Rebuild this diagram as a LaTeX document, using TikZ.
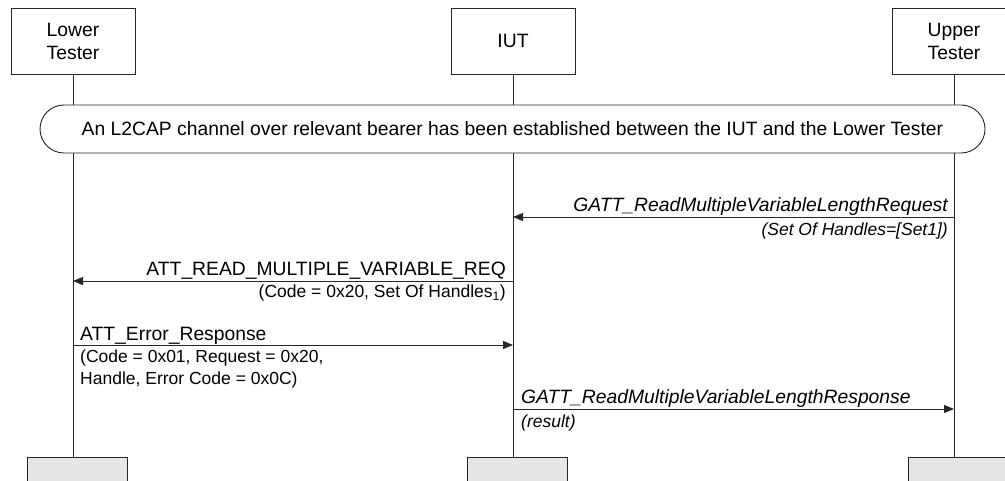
\documentclass[tikz,border=0pt]{standalone}
\usepackage{fontspec}
\setmainfont{Liberation Sans}
\usetikzlibrary{positioning,calc,arrows.meta}
\definecolor{ink}{HTML}{262626}
\definecolor{endgray}{HTML}{E6E6E6}
\newcommand{\lbl}{\fontsize{19.3}{23}\selectfont}
\newcommand{\sublbl}{\fontsize{17.5}{22}\selectfont}

\begin{document}
\begin{tikzpicture}[x=1pt,y=1pt,
  actor/.style={draw=ink,line width=0.9pt,minimum width=124pt,minimum height=66pt,align=center,font=\lbl},
  endbox/.style={draw=ink,fill=endgray,line width=0.9pt,minimum width=100pt,minimum height=40pt,anchor=north},
  life/.style={draw=ink,line width=0.9pt},
  msg/.style={draw=ink,line width=0.9pt,-{Triangle[length=10pt,width=8pt]}},
  note/.style={font=\sublbl,inner sep=0pt}]
  \useasboundingbox (0,0) rectangle (1005,-481);
  \clip (0,0) rectangle (1005,-481);

  % --- Cabeceras ---
  \node[actor] (lt)  at (73,-41)  {Lower\\Tester};
  \node[actor] (iut) at (513,-41) {IUT};
  \node[actor] (ut)  at (954,-41) {Upper\\Tester};

  % --- Cajas finales ---
  \node[endbox] (ltEnd)  at (77,-457)  {};
  \node[endbox] (iutEnd) at (517,-457) {};
  \node[endbox] (utEnd)  at (958,-457) {};

  % --- Líneas de vida ---
  \draw[life] (lt.south)  -- (lt.south |- ltEnd.north);
  \draw[life] (iut.south) -- (iut.south |- iutEnd.north);
  \draw[life] (ut.south)  -- (ut.south |- utEnd.north);

  % --- Condición previa ---
  \node[draw=ink,fill=white,line width=0.9pt,rounded corners=24pt,
        minimum width=945pt,minimum height=48pt,font=\lbl] (chan) at (512.5,-129)
    {An L2CAP channel over relevant bearer has been established between the IUT and the Lower Tester};

  % --- Alturas de los mensajes ---
  \coordinate (m1) at (0,-217);
  \coordinate (m2) at (0,-281);
  \coordinate (m3) at (0,-345);
  \coordinate (m4) at (0,-409);

  % --- Mensaje 1 ---
  \draw[msg] (ut |- m1) -- (iut |- m1);
  \node[font=\lbl\itshape,inner sep=0pt,anchor=base east] (req1)
    at ($(ut |- m1)+(-6,5)$) {GATT\_ReadMultipleVariableLengthRequest};
  \node[note,font=\sublbl\itshape,anchor=base east] (req1p)
    at ($(ut |- m1)+(-6,-19)$) {(Set Of Handles=[Set1])};

  % --- Mensaje 2 ---
  \draw[msg] (iut |- m2) -- (lt |- m2);
  \node[font=\lbl,inner sep=0pt,anchor=base east] (req2)
    at ($(iut |- m2)+(-7,5)$) {ATT\_READ\_MULTIPLE\_VARIABLE\_REQ};
  \node[note,anchor=base east] (req2p)
    at ($(iut |- m2)+(-7,-17)$) {(Code = 0x20, Set Of Handles\textsubscript{1})};

  % --- Mensaje 3 ---
  \draw[msg] (lt |- m3) -- (iut |- m3);
  \node[font=\lbl,inner sep=0pt,anchor=base west] (rsp3)
    at ($(lt |- m3)+(7,4)$) {ATT\_Error\_Response};
  \node[note,align=left,anchor=north west] (rsp3p)
    at ($(lt |- m3)+(7,-5)$) {(Code = 0x01, Request = 0x20,\\Handle, Error Code = 0x0C)};

  % --- Mensaje 4 ---
  \draw[msg] (iut |- m4) -- (ut |- m4);
  \node[font=\lbl\itshape,inner sep=0pt,anchor=base west] (rsp4)
    at ($(iut |- m4)+(8,6)$) {GATT\_ReadMultipleVariableLengthResponse};
  \node[note,font=\sublbl\itshape,anchor=base west] (rsp4p)
    at ($(iut |- m4)+(8,-18)$) {(result)};
\end{tikzpicture}
\end{document}
